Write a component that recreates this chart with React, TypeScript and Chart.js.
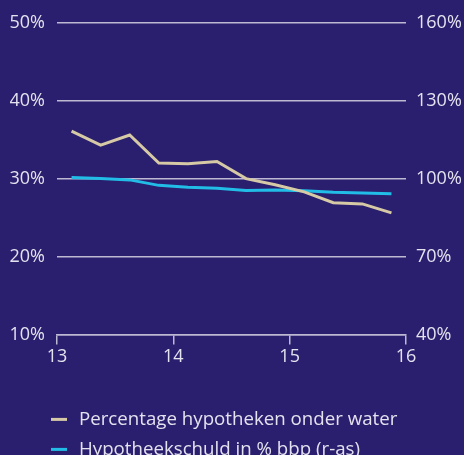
import { useEffect, useRef } from 'react';
import { Chart, registerables } from 'chart.js';

Chart.register(...registerables);

const FONT = "'Open Sans', sans-serif";
const BG = '#2a1e6e';
const GRID = '#bdb9d3';
const TEXT = '#e4e2ef';
const FS = 18;
const LEGEND_FS = 18.7;

const xValues = [13.125, 13.375, 13.625, 13.875, 14.125, 14.375, 14.625, 14.875, 15.125, 15.375, 15.625, 15.875];
const onderWater = [36.1, 34.3, 35.6, 32.0, 31.9, 32.2, 30.0, 29.2, 28.3, 26.9, 26.75, 25.6];
const schuldBbp = [100.4, 100.0, 99.5, 97.4, 96.7, 96.3, 95.4, 95.6, 95.3, 94.7, 94.5, 94.2];
const seriesLabels = ['Percentage hypotheken onder water', 'Hypotheekschuld in % bbp (r-as)'];
const xTicks = [13, 14, 15, 16];
const leftTicks = [10, 20, 30, 40, 50];
const rightTicks = [40, 70, 100, 130, 160];

const legendPlugin = {
  id: 'customLegend',
  afterDraw(chart: any) {
    const ctx = chart.ctx;
    const area = chart.chartArea;
    ctx.save();
    ctx.font = `${LEGEND_FS}px ${FONT}`;
    ctx.textBaseline = 'middle';
    ctx.textAlign = 'left';
    chart.data.datasets.forEach((ds: any, i: number) => {
      const y = area.bottom + 85 + i * 30;
      ctx.strokeStyle = ds.borderColor;
      ctx.lineWidth = 3;
      ctx.beginPath();
      ctx.moveTo(51, y);
      ctx.lineTo(67, y);
      ctx.stroke();
      ctx.fillStyle = TEXT;
      ctx.fillText(ds.label, 79, y);
    });
    ctx.restore();
  },
};

export default function App() {
  const ref = useRef<HTMLCanvasElement | null>(null);

  useEffect(() => {
    document.body.style.margin = '0';
    document.body.style.background = BG;
    const canvas = ref.current;
    if (!canvas) return;
    const chart = new Chart(canvas, {
      type: 'line',
      data: {
        datasets: [
          {
            label: seriesLabels[0],
            data: xValues.map((x, i) => ({ x, y: onderWater[i] })),
            borderColor: '#d5c9a6',
            backgroundColor: '#d5c9a6',
            borderWidth: 3,
            pointRadius: 0,
            tension: 0,
            yAxisID: 'y',
          },
          {
            label: seriesLabels[1],
            data: xValues.map((x, i) => ({ x, y: schuldBbp[i] })),
            borderColor: '#22bde6',
            backgroundColor: '#22bde6',
            borderWidth: 3,
            pointRadius: 0,
            tension: 0,
            yAxisID: 'y1',
          },
        ],
      },
      options: {
        animation: false,
        responsive: true,
        maintainAspectRatio: false,
        layout: { padding: { left: 10, right: 0, top: 13, bottom: 85 } },
        plugins: {
          legend: { display: false },
          tooltip: { enabled: false },
        },
        scales: {
          x: {
            type: 'linear',
            min: xTicks[0],
            max: xTicks[xTicks.length - 1],
            afterBuildTicks: (s: any) => { s.ticks = xTicks.map((v) => ({ value: v })); },
            ticks: {
              color: TEXT,
              font: { family: FONT, size: FS },
              padding: 2,
              callback: (v: any) => String(v),
            },
            grid: { drawOnChartArea: false, drawTicks: true, tickLength: 10, color: GRID, lineWidth: 1.5 },
            border: { display: true, color: GRID, width: 1.5 },
          },
          y: {
            position: 'left',
            min: leftTicks[0],
            max: leftTicks[leftTicks.length - 1],
            afterBuildTicks: (s: any) => { s.ticks = leftTicks.map((v) => ({ value: v })); },
            afterFit: (s: any) => { s.width = 47; },
            ticks: {
              color: TEXT,
              font: { family: FONT, size: FS },
              padding: 12,
              callback: (v: any) => v + '%',
            },
            grid: { drawTicks: false, color: GRID, lineWidth: 1.5 },
            border: { display: false },
          },
          y1: {
            position: 'right',
            min: rightTicks[0],
            max: rightTicks[rightTicks.length - 1],
            afterBuildTicks: (s: any) => { s.ticks = rightTicks.map((v) => ({ value: v })); },
            afterFit: (s: any) => { s.width = 58; },
            ticks: {
              color: TEXT,
              font: { family: FONT, size: FS },
              padding: 10,
              callback: (v: any) => v + '%',
            },
            grid: { display: false, drawTicks: false },
            border: { display: false },
          },
        },
      },
      plugins: [legendPlugin],
    } as any);
    return () => chart.destroy();
  }, []);

  return (
    <div style={{ position: 'absolute', left: 0, top: 0, width: 464, height: 455, background: BG }}>
      <canvas ref={ref} />
    </div>
  );
}
